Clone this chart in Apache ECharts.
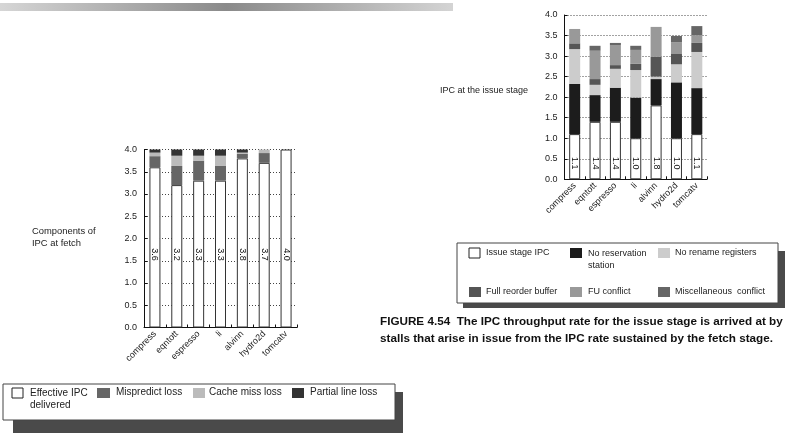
<!DOCTYPE html>
<html>
<head>
<meta charset="utf-8">
<script src="https://cdn.jsdelivr.net/npm/echarts@6/dist/echarts.min.js"></script>
<style>
  html, body { margin: 0; padding: 0; background: #fff; }
  #chart { width: 787px; height: 433px; }
</style>
</head>
<body>
<div id="chart"></div>
<script>
// Benchmarks shared by both panels
const benchmarks = ['compress', 'eqntott', 'espresso', 'li', 'alvinn', 'hydro2d', 'tomcatv'];
const yTicks = ['0.0', '0.5', '1.0', '1.5', '2.0', '2.5', '3.0', '3.5', '4.0'];

// Fetch stage: components of the 4-wide fetch IPC
const effectiveIPC   = [3.6, 3.2, 3.3, 3.3, 3.8, 3.7, 4.0];
const mispredictLoss = [0.25, 0.43, 0.45, 0.33, 0.10, 0.22, 0];
const cacheMissLoss  = [0.08, 0.23, 0.11, 0.23, 0.03, 0.08, 0];
const partialLineLoss = [0.07, 0.14, 0.14, 0.14, 0.07, 0, 0];

// Issue stage: issue IPC and the stalls on top of it
const issueIPC        = [1.1, 1.4, 1.4, 1.0, 1.8, 1.0, 1.1];
const noReservation   = [1.22, 0.65, 0.83, 0.99, 0.64, 1.36, 1.12];
const noRename        = [0.85, 0.25, 0.46, 0.67, 0.06, 0.44, 0.88];
const fullReorder     = [0.14, 0.14, 0.09, 0.15, 0.48, 0.25, 0.22];
const fuConflict      = [0.35, 0.69, 0.49, 0.34, 0.73, 0.29, 0.19];
const miscConflict    = [0, 0.12, 0.05, 0.10, 0, 0.15, 0.22];

const FONT = '"Liberation Sans", Arial, Helvetica, sans-serif';
const TXT = '#222';

const chart = echarts.init(document.getElementById('chart'), null, { renderer: 'canvas' });

function yAxisCfg(gridIndex) {
  return {
    type: 'value', gridIndex, min: 0, max: 4, interval: 0.5,
    axisLine: { show: true, lineStyle: { color: '#111', width: 1 } },
    axisTick: { show: true, inside: true, length: 3, lineStyle: { color: '#111' } },
    axisLabel: {
      fontSize: 9, color: TXT, fontFamily: FONT, margin: 7,
      formatter: v => yTicks[Math.round(v / 0.5)]
    },
    splitLine: { show: true, lineStyle: { color: '#444', width: 1, type: [1, 2] } }
  };
}
function xAxisCfg(gridIndex) {
  return {
    type: 'category', gridIndex, data: benchmarks,
    axisLine: { show: true, lineStyle: { color: '#111', width: 1 } },
    axisTick: { show: true, inside: true, length: 3, lineStyle: { color: '#111' } },
    axisLabel: { interval: 0, rotate: 45, fontSize: 9, color: TXT, fontFamily: FONT, margin: 5 },
    splitLine: { show: false }
  };
}

function valueLabel(distance) {
  return {
    show: true, position: 'insideBottom', distance, rotate: -90,
    align: 'center', verticalAlign: 'middle',
    fontSize: 9, color: '#111', fontFamily: FONT,
    formatter: p => p.value.toFixed(1)
  };
}

function stackSeries(name, data, color, axis, stack, extra) {
  return Object.assign({
    name, type: 'bar', data, stack, xAxisIndex: axis, yAxisIndex: axis,
    barWidth: 11, itemStyle: { color }, silent: true, animation: false
  }, extra || {});
}

const whiteItem = { color: '#fff', borderColor: '#333', borderWidth: 1 };
const F9 = '9px ' + FONT;
const F10 = '10px ' + FONT;

// Legend boxes, titles, caption and the rule at the top
const graphics = [
  {
    type: 'rect', shape: { x: 0, y: 3, width: 453, height: 8 },
    style: {
      fill: new echarts.graphic.LinearGradient(0, 0, 1, 0, [
        { offset: 0, color: '#d6d6d6' },
        { offset: 0.5, color: '#8a8a8a' },
        { offset: 1, color: '#d4d4d4' }
      ])
    }
  },
  { type: 'text', left: 32, top: 225, style: { text: 'Components of\nIPC at fetch', font: '9.4px ' + FONT, fill: TXT, lineHeight: 12 } },
  { type: 'text', left: 440, top: 86, style: { text: 'IPC at the issue stage', font: F9, fill: TXT } },

  // fetch legend
  { type: 'rect', shape: { x: 13, y: 392, width: 390, height: 45 }, style: { fill: '#4a4a4a' } },
  { type: 'rect', shape: { x: 3, y: 384, width: 392, height: 36 }, style: { fill: '#fff', stroke: '#444', lineWidth: 1 } },
  { type: 'rect', shape: { x: 12, y: 388, width: 11, height: 10 }, style: { fill: '#fff', stroke: '#222', lineWidth: 1 } },
  { type: 'text', left: 30, top: 387, style: { text: 'Effective IPC\ndelivered', font: F10, fill: TXT, lineHeight: 12 } },
  { type: 'rect', shape: { x: 97, y: 388, width: 13, height: 10 }, style: { fill: '#666' } },
  { type: 'text', left: 116, top: 387, style: { text: 'Mispredict loss', font: F10, fill: TXT } },
  { type: 'rect', shape: { x: 193, y: 388, width: 12, height: 10 }, style: { fill: '#bbb' } },
  { type: 'text', left: 209, top: 387, style: { text: 'Cache miss loss', font: F10, fill: TXT } },
  { type: 'rect', shape: { x: 292, y: 388, width: 12, height: 10 }, style: { fill: '#333' } },
  { type: 'text', left: 310, top: 387, style: { text: 'Partial line loss', font: F10, fill: TXT } },

  // issue legend
  { type: 'rect', shape: { x: 463, y: 251, width: 322, height: 57 }, style: { fill: '#4a4a4a' } },
  { type: 'rect', shape: { x: 457, y: 243, width: 321, height: 60 }, style: { fill: '#fff', stroke: '#444', lineWidth: 1 } },
  { type: 'rect', shape: { x: 469, y: 248, width: 11, height: 10 }, style: { fill: '#fff', stroke: '#222', lineWidth: 1 } },
  { type: 'text', left: 486, top: 248, style: { text: 'Issue stage IPC', font: F9, fill: TXT } },
  { type: 'rect', shape: { x: 570, y: 248, width: 12, height: 10 }, style: { fill: '#1c1c1c' } },
  { type: 'text', left: 588, top: 248, style: { text: 'No reservation\nstation', font: F9, fill: TXT, lineHeight: 12 } },
  { type: 'rect', shape: { x: 658, y: 248, width: 12, height: 10 }, style: { fill: '#ccc' } },
  { type: 'text', left: 675, top: 248, style: { text: 'No rename registers', font: F9, fill: TXT } },
  { type: 'rect', shape: { x: 469, y: 287, width: 12, height: 10 }, style: { fill: '#555' } },
  { type: 'text', left: 486, top: 287, style: { text: 'Full reorder buffer', font: F9, fill: TXT } },
  { type: 'rect', shape: { x: 570, y: 287, width: 12, height: 10 }, style: { fill: '#999' } },
  { type: 'text', left: 588, top: 287, style: { text: 'FU conflict', font: F9, fill: TXT } },
  { type: 'rect', shape: { x: 658, y: 287, width: 12, height: 10 }, style: { fill: '#666' } },
  { type: 'text', left: 675, top: 287, style: { text: 'Miscellaneous  conflict', font: F9, fill: TXT } },

  // caption
  { type: 'text', left: 380, top: 316, style: { text: 'FIGURE 4.54  The IPC throughput rate for the issue stage is arrived at by', font: 'bold 11.7px ' + FONT, fill: '#111' } },
  { type: 'text', left: 380, top: 333, style: { text: 'stalls that arise in issue from the IPC rate sustained by the fetch stage.', font: 'bold 11.7px ' + FONT, fill: '#111' } }
];

const option = {
  backgroundColor: '#fff',
  animation: false,
  grid: [
    { left: 144, top: 149.5, width: 153, height: 178, containLabel: false },
    { left: 564.5, top: 15, width: 142.5, height: 164.3, containLabel: false }
  ],
  xAxis: [xAxisCfg(0), xAxisCfg(1)],
  yAxis: [yAxisCfg(0), yAxisCfg(1)],
  series: [
    stackSeries('Effective IPC delivered', effectiveIPC, '#fff', 0, 'fetch', { itemStyle: whiteItem, label: valueLabel(73) }),
    stackSeries('Mispredict loss', mispredictLoss, '#666', 0, 'fetch'),
    stackSeries('Cache miss loss', cacheMissLoss, '#bbb', 0, 'fetch'),
    stackSeries('Partial line loss', partialLineLoss, '#333', 0, 'fetch'),

    stackSeries('Issue stage IPC', issueIPC, '#fff', 1, 'issue', { itemStyle: whiteItem, label: valueLabel(16) }),
    stackSeries('No reservation station', noReservation, '#1c1c1c', 1, 'issue'),
    stackSeries('No rename registers', noRename, '#ccc', 1, 'issue'),
    stackSeries('Full reorder buffer', fullReorder, '#555', 1, 'issue'),
    stackSeries('FU conflict', fuConflict, '#999', 1, 'issue'),
    stackSeries('Miscellaneous conflict', miscConflict, '#666', 1, 'issue')
  ],
  graphic: graphics
};

chart.setOption(option);
</script>
</body>
</html>
